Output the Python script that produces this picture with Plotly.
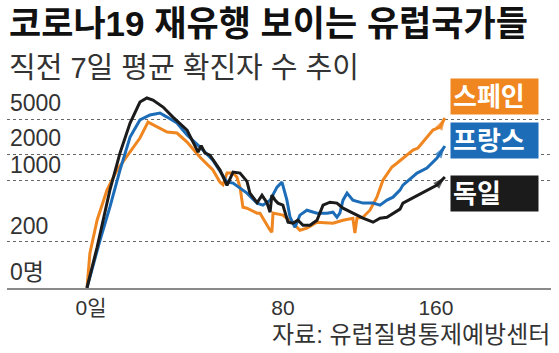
import plotly.graph_objects as go
import math

# ---- data ----
germany_day = [0, 4.5, 10.2, 14.7, 19.2, 23.6, 26.7, 29.4, 33.9, 38.3, 44.6, 49.5, 50.9, 52.6, 54.8,
               59.3, 62.4, 65.1, 68.2, 71.3, 72.6, 75.8, 78.0, 80.2, 81.6, 82.4, 83.8, 85.1, 87.3,
               89.6, 91.8, 94.0, 96.3, 99.4, 102.5, 105.2, 108.3, 111.4, 114.1, 118.5, 123.0, 127.5,
               130.6, 133.7, 136.4, 139.5, 140.8, 146.0, 151.5, 156.0, 159.5]
germany_cases = [60, 174, 779, 2060, 4530, 7870, 8750, 8300, 6900, 5300, 3770, 2110, 2500, 2060, 1950,
                 1320, 880, 1250, 1220, 980, 720, 560, 680, 560, 437, 683, 599, 554, 525,
                 336, 327, 354, 310, 310, 354, 525, 568, 554, 485, 426, 373, 336,
                 373, 383, 426, 473, 554, 650, 779, 889, 1100]

spain_day = [0, 1.3, 4.5, 8.9, 13.4, 19.2, 23.6, 27.2, 31.2, 35.7, 40.1, 44.6, 50.4, 56.1, 59.3, 60.6,
             62.4, 65.1, 66.8, 68.2, 69.5, 71.3, 75.8, 77.1, 81.6, 82.4, 82.9, 87.3, 91.8, 94.9, 98.0,
             102.5, 109.6, 114.1, 118.5, 119.4, 120.3, 123.0, 126.1, 129.2, 131.9, 135.9, 138.1,
             145.3, 147.5, 151.5, 154.2, 157.3, 159.5]
spain_cases = [60, 149, 354, 779, 1320, 2110, 3060, 4650, 4080, 3580, 3490, 2750, 1850, 1320, 960, 900,
               1220, 1220, 1100, 843, 498, 485, 426, 426, 272, 258, 426, 404, 327, 272, 287,
               336, 327, 354, 373, 252, 373, 383, 460, 648, 1010, 1430, 1580,
               2230, 2350, 3140, 3770, 4080, 5170]

france_day = [0, 5.8, 10.2, 14.7, 19.2, 23.6, 28.1, 32.5, 35.7, 40.1, 44.6, 50.4, 56.1, 62.4, 65.1,
              71.3, 75.8, 78.4, 81.6, 84.7, 86.9, 89.1, 90.5, 92.7, 94.9, 98.0, 102.5, 107.0, 109.6,
              111.4, 112.7, 114.1, 115.9, 118.5, 123.0, 127.5, 130.6, 133.7, 136.4, 139.5, 140.8,
              147.1, 151.5, 156.0, 159.5]
france_cases = [60, 209, 498, 1320, 3140, 4910, 5600, 5900, 5300, 4530, 3310, 2410, 1710, 962, 936,
                720, 554, 525, 599, 843, 962, 599, 383, 294, 404, 460, 426, 426, 437,
                383, 426, 599, 720, 599, 554, 554, 525, 599, 648, 779, 889,
                1220, 1390, 1810, 2480]

series_names = ["스페인", "프랑스", "독일"]
y_tick_values = [60, 200, 1000, 2000, 5000]
y_tick_labels = ["0명", "200", "1000", "2000", "5000"]
x_tick_values = [1.8, 87.3, 155.5]
x_tick_labels = ["0일", "80", "160"]

title_text = "코로나19 재유행 보이는 유럽국가들"
subtitle_text = "직전 7일 평균 확진자 수 추이"
source_text = "자료: 유럽질병통제예방센터"

# ---- styles ----
FONT = "Liberation Sans, Noto Sans CJK KR, sans-serif"
ORANGE = "#F0861F"
BLUE = "#1C6CB8"
BLACK = "#1B1B1B"
colors = [ORANGE, BLUE, BLACK]

fig = go.Figure()
for name, xs, ys, col in [(series_names[0], spain_day, spain_cases, ORANGE),
                          (series_names[1], france_day, france_cases, BLUE),
                          (series_names[2], germany_day, germany_cases, BLACK)]:
    n = len(xs)
    fig.add_trace(go.Scatter(
        x=xs, y=ys, name=name, mode="lines+markers",
        line=dict(color=col, width=3),
        marker=dict(symbol="arrow", angleref="previous", color=col,
                    size=[0] * (n - 1) + [13], line=dict(width=0)),
        showlegend=False, hoverinfo="skip", cliponaxis=False,
    ))

W, H = 559, 353
ml, mr, mt, mb = 7, 8, 80, 65
ph = H - mt - mb

def py(p):  # pixel row -> paper y
    return 1 + (mt - p) / ph

def px(p):  # pixel col -> paper x
    return (p - ml) / (W - ml - mr)

fig.update_layout(
    width=W, height=H, margin=dict(l=ml, r=mr, t=mt, b=mb),
    paper_bgcolor="white", plot_bgcolor="white",
    font=dict(family=FONT, color="#333333"),
    xaxis=dict(range=[-35.65, 206.8], showgrid=False, zeroline=False,
               tickvals=x_tick_values, ticktext=x_tick_labels, ticks="",
               tickfont=dict(size=21, color="#333333"),
               showline=True, linecolor="#8a8a8a", linewidth=1.5),
    yaxis=dict(type="log", range=[math.log10(59.7), math.log10(14030)],
               tickvals=y_tick_values, ticktext=y_tick_labels, ticks="",
               ticklabelposition="inside top",
               tickfont=dict(size=23, color="#333333"),
               showgrid=True, gridcolor="#666666", gridwidth=1, griddash="3px,3px",
               zeroline=False, showline=False),
)

ann = []
ann.append(dict(text="<b>" + title_text + "</b>", xref="paper", yref="paper", x=0, y=py(2),
                xanchor="left", yanchor="top", showarrow=False,
                font=dict(size=35, color="#111111", family=FONT)))
ann.append(dict(text=subtitle_text, xref="paper", yref="paper", x=0, y=py(50),
                xanchor="left", yanchor="top", showarrow=False,
                font=dict(size=29, color="#333333", family=FONT)))
ann.append(dict(text=source_text, xref="paper", yref="paper", x=px(552), y=py(319),
                xanchor="right", yanchor="top", showarrow=False,
                font=dict(size=24, color="#333333", family=FONT)))

box_centers = [96.5, 140.5, 193]
for name, col, cy in zip(series_names, colors, box_centers):
    ann.append(dict(text="<b>" + name + "</b>", xref="paper", yref="paper",
                    x=px(494.5), y=py(cy), xanchor="center", yanchor="middle",
                    showarrow=False, bgcolor=col, width=83, height=31, borderpad=2,
                    align="left", font=dict(size=26, color="white", family=FONT)))
fig.update_layout(annotations=ann)

fig.write_html("out.html")
